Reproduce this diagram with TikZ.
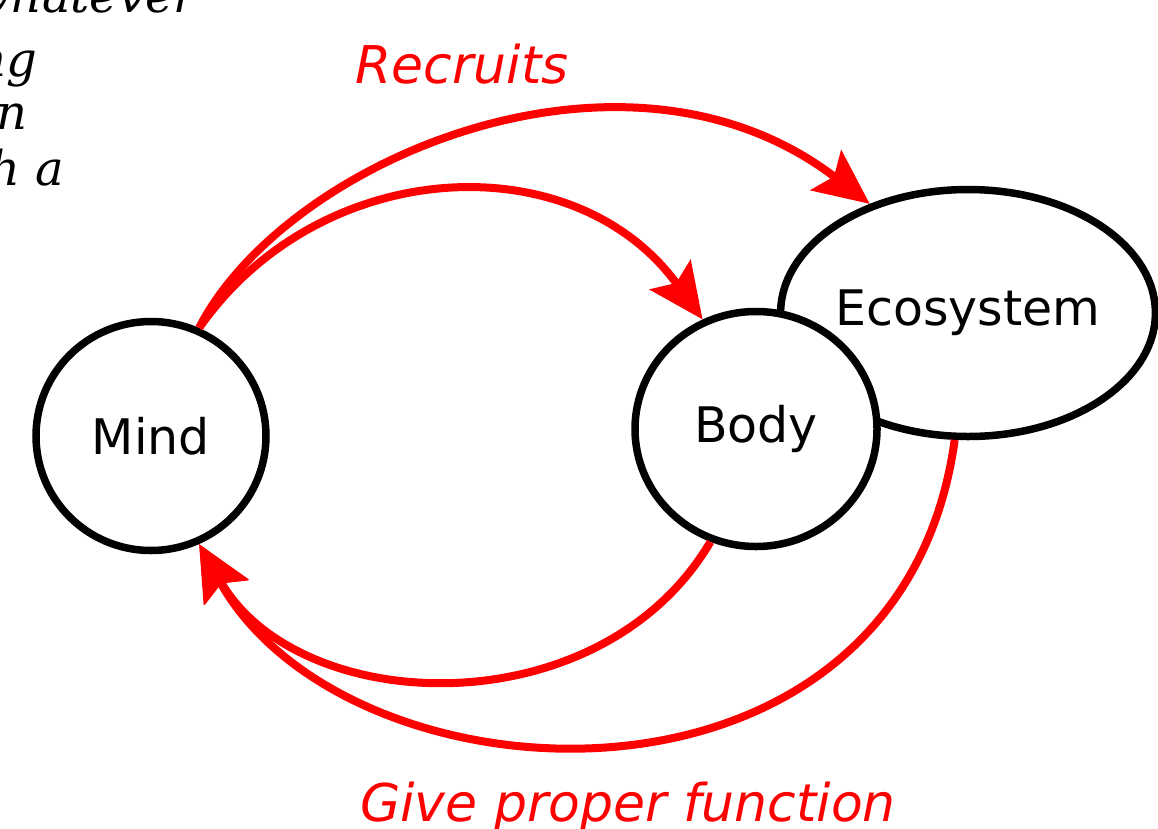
\documentclass[tikz,border=0pt]{standalone}
\usepackage{fontspec}
\setmainfont{DejaVu Sans}
\newfontfamily\serifit{DejaVu Serif}
\usetikzlibrary{arrows.meta,shapes.geometric}
\begin{document}
\begin{tikzpicture}[x=1pt,y=-1pt,
  blob/.style={draw=black, line width=7.5pt, fill=white, ellipse, inner sep=0pt, font=\fontsize{49}{58}\selectfont},
  link/.style={draw=red, line width=8pt, -{Stealth[length=55pt,width=50pt,inset=10pt]}},
  lab/.style={text=red, font=\fontsize{52}{62}\selectfont\itshape, inner sep=0pt, anchor=base},
  frag/.style={font=\serifit\itshape\fontsize{48}{55}\selectfont, anchor=base east, inner sep=0pt}]
\useasboundingbox (0,0) rectangle (1158,828);
\clip (0,0) rectangle (1158,828);
\node[frag] (f1) at (197,12) {whatever};
\node[frag] (f2) at (37,76) {ng};
\node[frag] (f3) at (28,129) {n};
\node[frag] (f4) at (64,185) {h a};
\node[blob, minimum width=371pt, minimum height=247pt] (eco) at (968,313) {Ecosystem};
\node[blob, minimum width=242pt, minimum height=235pt] (body) at (756,429) {Body};
\node[blob, minimum width=230pt, minimum height=229pt] (mind) at (151,436) {Mind};
\draw[link] (mind.66) .. controls (285,160) and (625,16) .. (eco.132);
\draw[link] (mind.66) .. controls (320,155) and (574,142) .. (body.116);
\draw[link] (body.248) .. controls (600,729) and (299,718) .. (mind.294);
\draw[link] (eco.264) .. controls (900,840) and (347,811) .. (mind.294);
\node[lab] (rec) at (462,83) {Recruits};
\node[lab] (gpf) at (628,821) {Give proper function};
\end{tikzpicture}
\end{document}
